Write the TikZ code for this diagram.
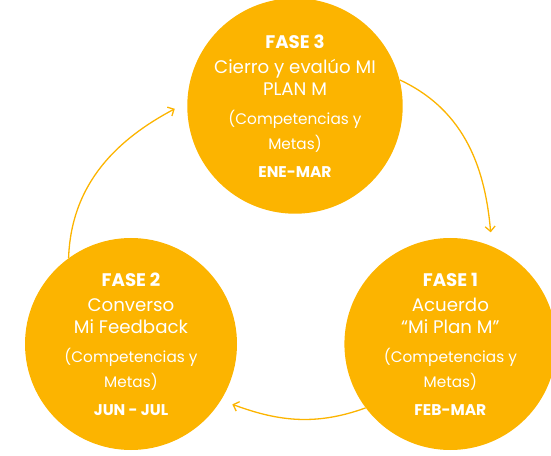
\documentclass[tikz,border=0pt]{standalone}
\usepackage{fontspec}
\setmainfont{Poppins}
\usetikzlibrary{positioning}
\usetikzlibrary{arrows.meta}
\definecolor{amber}{RGB}{252,180,0}
\newcommand{\detalle}[1]{{\fontsize{15.3}{25}\selectfont #1}}
\newcommand{\periodo}[1]{{\fontsize{15.5}{25}\selectfont\bfseries #1}}
\tikzset{	node distance=107pt,
	fase/.style={
		circle,
		fill=amber,
		text=white,
		minimum size=212pt,
		inner sep=0pt,
		align=center,
		font=\fontsize{18.2}{25}\selectfont},
	ciclo/.style={
		draw=amber,
		line width=1.3pt,
		-{Straight Barb[length=5pt,width=10pt]},
		shorten >=14pt}
}
\begin{document}
\begin{tikzpicture}[x=1pt, y=1pt]
	\useasboundingbox (0,0) rectangle (551,455);

	\node[fase] (fase3) at (295,349) {\textbf{FASE 3}\\ Cierro y evalúo MI\\[-3pt] PLAN M\\[4pt] \detalle{(Competencias y}\\ \detalle{Metas)}\\[3pt] \periodo{ENE-MAR}};
	\node[fase] (fase2) at (131,111) {\textbf{FASE 2}\\ Converso\\[-3pt] Mi Feedback\\[4pt] \detalle{(Competencias y}\\ \detalle{Metas)}\\[3pt] \periodo{JUN - JUL}};
	\node[fase, right = of fase2] (fase1) {\textbf{FASE 1}\\ Acuerdo\\[-3pt] “Mi Plan M”\\[4pt] \detalle{(Competencias y}\\ \detalle{Metas)}\\[3pt] \periodo{FEB-MAR}};

	\draw[ciclo] (fase3.14) to[out=-25, in=95] (fase1.67);
	\draw[ciclo] (fase2.126) to[out=88, in=208] (fase3.178);
	\draw[ciclo, shorten >=12pt] (fase1.217) to[out=200, in=-20] (fase2.328);

\end{tikzpicture}
\end{document}
